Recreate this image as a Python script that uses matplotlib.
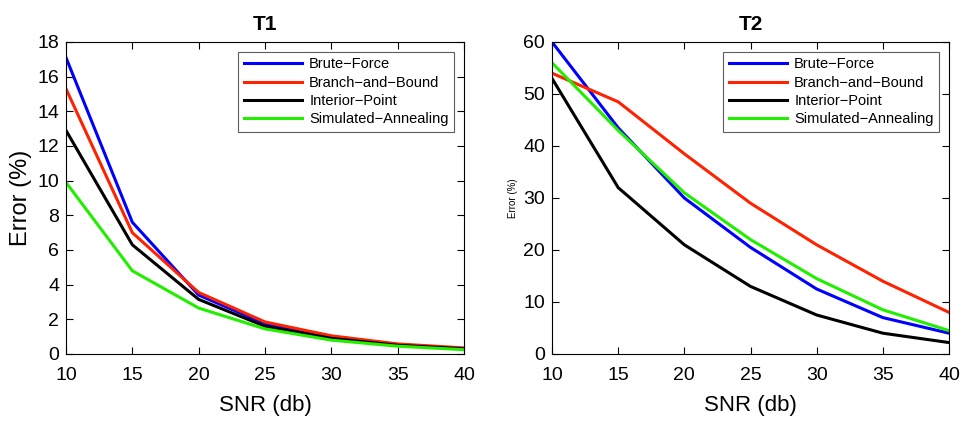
import matplotlib
matplotlib.use('Agg')
import matplotlib.pyplot as plt

plt.rcParams['font.family'] = ['Liberation Sans', 'DejaVu Sans']

snr = [10, 15, 20, 25, 30, 35, 40]
labels = ['Brute\u2212Force', 'Branch\u2212and\u2212Bound', 'Interior\u2212Point', 'Simulated\u2212Annealing']
colors = ['#0000ff', '#ff2200', '#000000', '#22ee00']

# T1
t1_bf = [17.1, 7.6, 3.4, 1.75, 1.0, 0.55, 0.3]
t1_bb = [15.3, 7.0, 3.55, 1.85, 1.05, 0.58, 0.35]
t1_ip = [12.9, 6.3, 3.15, 1.6, 0.9, 0.5, 0.3]
t1_sa = [9.9, 4.8, 2.65, 1.45, 0.8, 0.45, 0.25]

# T2
t2_bf = [60, 43.5, 30, 20.5, 12.5, 7, 4]
t2_bb = [54, 48.5, 38.5, 29, 21, 14, 8]
t2_ip = [53, 32, 21, 13, 7.5, 4, 2.2]
t2_sa = [56, 43, 31, 22, 14.5, 8.5, 4.5]

fig = plt.figure(figsize=(9.72, 4.24), dpi=100)
ax1 = fig.add_axes([66/972, 1-354/424, 398/972, 312/424])
ax2 = fig.add_axes([552/972, 1-354/424, 397/972, 312/424])

for ax, series, title, ymax, ystep, ylab_size in [
        (ax1, [t1_bf, t1_bb, t1_ip, t1_sa], 'T1', 18, 2, 17),
        (ax2, [t2_bf, t2_bb, t2_ip, t2_sa], 'T2', 60, 10, 7)]:
    for s, c, l in zip(series, colors, labels):
        ax.plot(snr, s, color=c, lw=2.2, label=l)
    ax.set_xlim(10, 40)
    ax.set_ylim(0, ymax)
    ax.set_xticks(snr)
    ax.set_yticks(range(0, ymax + 1, ystep))
    ax.tick_params(direction='in', top=True, right=True, labelsize=14, length=5)
    ax.tick_params(axis='x', pad=9)
    ax.tick_params(axis='y', pad=5)
    ax.set_title(title, fontsize=15, fontweight='bold', pad=9)
    ax.set_xlabel('SNR (db)', fontsize=16, labelpad=8)
    ax.set_ylabel('Error (%)', fontsize=ylab_size)
    leg = ax.legend(loc='upper right', fontsize=10.5, fancybox=False, edgecolor='#333333',
                    handlelength=4.0, borderaxespad=0.7, labelspacing=0.3,
                    borderpad=0.35, handletextpad=0.5)
    leg.get_frame().set_linewidth(0.8)

fig.savefig('out.png', dpi=100)
